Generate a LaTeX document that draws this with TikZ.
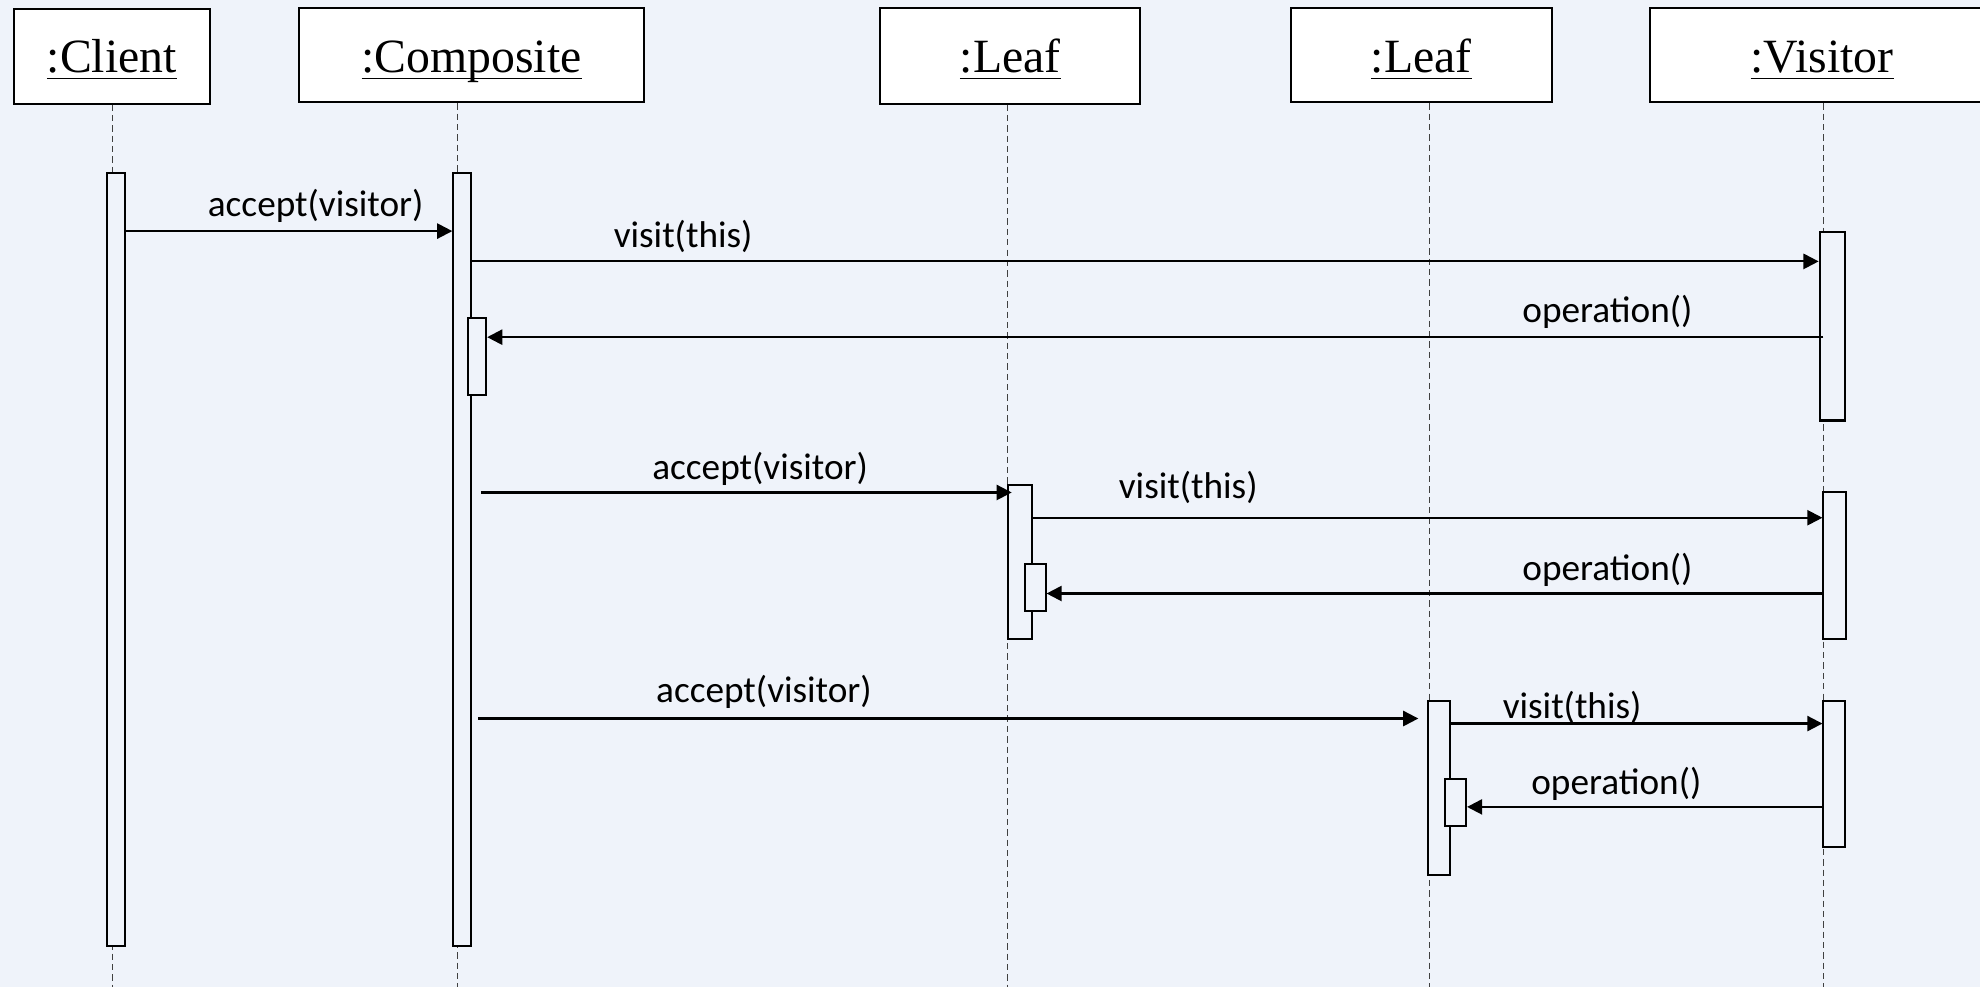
\documentclass[tikz,border=0pt]{standalone}
\usepackage{fontspec}
\setmainfont{Liberation Serif}
\newfontfamily\lblfont{Carlito}
\usetikzlibrary{arrows.meta,fit,calc}
\definecolor{bg}{RGB}{239,243,250}
\newcommand\myul[1]{\setbox0\hbox{#1}\rlap{\vrule height -2.1pt depth 2.7pt width \wd0}\box0}
\begin{document}
\begin{tikzpicture}[x=0.5pt,y=-0.5pt,
 hdr/.style={draw=black,line width=0.8pt,fill=white,inner sep=0pt},
 bar/.style={draw=black,line width=0.8pt,fill=bg,inner sep=0pt},
 life/.style={draw=black!75,line width=0.45pt,dash pattern=on 2.5pt off 1.6pt},
 msg/.style={draw=black,line width=0.85pt,-{Triangle[length=6pt,width=6pt]}},
 lbl/.style={font=\lblfont\fontsize{14.75}{17}\selectfont,inner sep=0pt},
 ttl/.style={font=\fontsize{18.9}{22}\selectfont,inner sep=0pt,anchor=base}]
\fill[bg] (0,0) rectangle (1568,782);
\useasboundingbox (0,0) rectangle (1568,782);
\clip (0,0) rectangle (1568,782);
% header boxes
\node[hdr,fit={(11,7) (166,82)}] (client) {};
\node[hdr,fit={(237,6) (510,81)}] (comp) {};
\node[hdr,fit={(697,6) (903,82)}] (leafa) {};
\node[hdr,fit={(1022,6) (1229,81)}] (leafb) {};
\node[hdr,fit={(1307,6) (1582,81)}] (vis) {};
\coordinate (tb) at (0,57.5);
\node[ttl] (tclient) at (client.center |- tb) {\myul{:Client}};
\node[ttl] (tcomp) at (comp.center |- tb) {\myul{:Composite}};
\node[ttl] (tleafa) at (leafa.center |- tb) {\myul{:Leaf}};
\node[ttl] (tleafb) at (leafb.center |- tb) {\myul{:Leaf}};
\node[ttl] (tvis) at (1443,57.5) {\myul{:Visitor}};
% lifeline x positions and bottom
\coordinate (xc) at (89,0);
\coordinate (xo) at (362,0);
\coordinate (xa) at (798,0);
\coordinate (xb) at (1132,0);
\coordinate (xv) at (1444,0);
\coordinate (bot) at (0,782);
\draw[life] (client.south -| xc) -- (bot -| xc);
\draw[life] (comp.south -| xo) -- (bot -| xo);
\draw[life] (leafa.south -| xa) -- (bot -| xa);
\draw[life] (leafb.south -| xb) -- (bot -| xb);
\draw[life] (vis.south -| xv) -- (bot -| xv);
% activation bars
\node[bar,fit={(85,137) (99,749)}] (clb) {};
\node[bar,fit={(359,137) (373,749)}] (cob) {};
\node[bar,fit={(371,252) (385,313)}] (cos) {};
\node[bar,fit={(1441,184) (1461,333)}] (vb1) {};
\node[bar,fit={(798,384) (817,506)}] (lab) {};
\node[bar,fit={(812,447) (828,484)}] (las) {};
\node[bar,fit={(1444,390) (1462,506)}] (vb2) {};
\node[bar,fit={(1131,555) (1148,693)}] (lbb) {};
\node[bar,fit={(1144,617) (1161,654)}] (lbs) {};
\node[bar,fit={(1444,555) (1461,671)}] (vb3) {};
% message levels
\coordinate (y1) at (0,183);
\coordinate (y2) at (0,207);
\coordinate (y3) at (0,267);
\coordinate (y4) at (0,390);
\coordinate (y5) at (0,410);
\coordinate (y6) at (0,470);
\coordinate (y7) at (0,569);
\coordinate (y8) at (0,573);
\coordinate (y9) at (0,639);
% messages
\draw[msg] (clb.east |- y1) -- (cob.west |- y1);
\draw[msg] (cob.east |- y2) -- (vb1.west |- y2);
\draw[msg] (xv |- y3) -- (cos.east |- y3);
\draw[msg] ($(cob.east |- y4)+(7,0)$) -- ($(lab.west |- y4)+(4,0)$);
\draw[msg] (lab.east |- y5) -- (vb2.west |- y5);
\draw[msg] (xv |- y6) -- (las.east |- y6);
\draw[msg] ($(cob.east |- y7)+(5,0)$) -- ($(lbb.west |- y7)+(-7,0)$);
\draw[msg] (lbb.east |- y8) -- (vb3.west |- y8);
\draw[msg] (xv |- y9) -- (lbs.east |- y9);
% labels
\node[lbl] (t1) at (250,163) {accept(visitor)};
\node[lbl] (t2) at (541,187) {visit(this)};
\node[lbl] (t3) at (1273,247) {operation()};
\node[lbl] (t4) at (602,371) {accept(visitor)};
\node[lbl] (t5) at (941,386) {visit(this)};
\node[lbl] (t6) at (1273,451) {operation()};
\node[lbl] (t7) at (605,548) {accept(visitor)};
\node[lbl] (t8) at (1245,560) {visit(this)};
\node[lbl] (t9) at (1280,621) {operation()};
\end{tikzpicture}
\end{document}
